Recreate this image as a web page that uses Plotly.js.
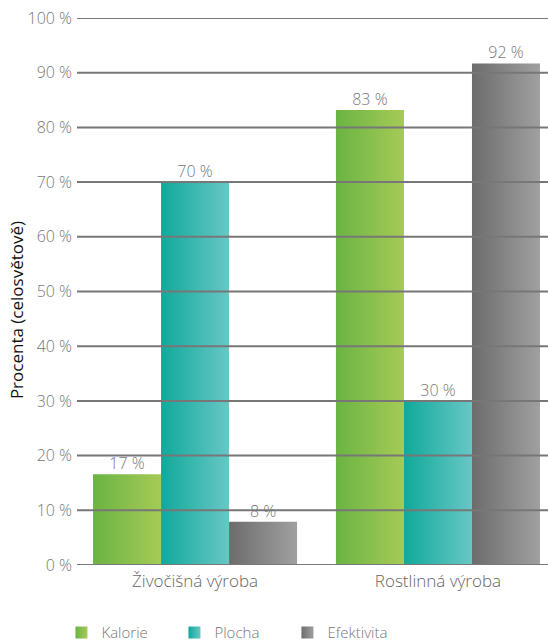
<!DOCTYPE html>
<html>
<head>
<meta charset="utf-8">
<script src="https://cdn.plot.ly/plotly-3.0.1.min.js"></script>
<style>html,body{margin:0;padding:0;background:#fff;}#chart{width:548px;height:644px;}</style>
</head>
<body>
<div id="chart"></div>
<script>
const categories = ["Živočišná výroba", "Rostlinná výroba"];
const seriesNames = ["Kalorie", "Plocha", "Efektivita"];
const kalorie = [16.6, 83.2];
const plocha = [70, 30];
const efektivita = [7.9, 91.7];
const tickValues = [0, 10, 20, 30, 40, 50, 60, 70, 80, 90, 100];
const yTitle = "Procenta (celosvětově)";

const gradients = [
  ["#6ab443", "#a6ca56"],
  ["#10a99b", "#68c7c5"],
  ["#6c6c6c", "#a0a0a0"]
];
const solid = ["#8abf4c", "#3cb8b0", "#868686"];

const allValues = [kalorie, plocha, efektivita];
const traces = allValues.map((vals, i) => ({
  type: "bar",
  name: seriesNames[i],
  x: categories,
  y: vals,
  text: vals.map(v => Math.round(v) + " %"),
  textposition: "outside",
  textfont: {family: "Open Sans", size: 16, color: "#777777", weight: 300},
  cliponaxis: false,
  marker: {color: solid[i], line: {width: 0}},
  hoverinfo: "none"
}));

const shapes = tickValues.map(v => ({
  type: "line", layer: "above", xref: "paper", x0: 0, x1: 1, yref: "y", y0: v, y1: v,
  line: {color: "#777777", width: 2}
}));

const layout = {
  width: 548, height: 644,
  margin: {l: 77, r: 0, t: 18, b: 79, autoexpand: false},
  paper_bgcolor: "#ffffff", plot_bgcolor: "#ffffff",
  font: {family: "Open Sans", color: "#777777"},
  barmode: "group",
  bargap: 0.16, bargroupgap: 0,
  showlegend: true,
  legend: {
    orientation: "h", x: -0.033, xanchor: "left", y: -0.124, yanchor: "middle",
    font: {family: "Open Sans", size: 15, color: "#777777", weight: 300},
    entrywidth: 68, entrywidthmode: "pixels", itemclick: false, itemdoubleclick: false
  },
  xaxis: {
    type: "category", range: [-0.486, 1.453], showgrid: false, zeroline: false, showline: false,
    ticks: "", ticklabelstandoff: 4,
    tickfont: {family: "Open Sans", size: 17, color: "#666666", weight: 300}, fixedrange: true
  },
  yaxis: {
    range: [0, 100], tickvals: tickValues, ticktext: tickValues.map(v => v + " %"),
    showgrid: false, zeroline: false, showline: false, ticks: "", ticklen: 0, ticklabelstandoff: 4,
    tickfont: {family: "Open Sans", size: 16, color: "#777777", weight: 300},
    fixedrange: true
  },
  annotations: [{
    text: yTitle, xref: "paper", yref: "paper", x: -0.1295, y: 0.466,
    xanchor: "center", yanchor: "middle", textangle: -90, showarrow: false,
    font: {family: "Open Sans", size: 17, color: "#111111"}
  }],
  shapes: shapes
};

function applyGradients(gd) {
  const svg = gd.querySelector("svg.main-svg");
  const ns = "http://www.w3.org/2000/svg";
  let defs = svg.querySelector("defs");
  if (!defs) { defs = document.createElementNS(ns, "defs"); svg.insertBefore(defs, svg.firstChild); }
  gradients.forEach((g, i) => {
    const lg = document.createElementNS(ns, "linearGradient");
    lg.setAttribute("id", "barGrad" + i);
    lg.setAttribute("x1", "0"); lg.setAttribute("y1", "0");
    lg.setAttribute("x2", "1"); lg.setAttribute("y2", "0");
    const s1 = document.createElementNS(ns, "stop");
    s1.setAttribute("offset", "0"); s1.setAttribute("stop-color", g[0]);
    const s2 = document.createElementNS(ns, "stop");
    s2.setAttribute("offset", "1"); s2.setAttribute("stop-color", g[1]);
    lg.appendChild(s1); lg.appendChild(s2); defs.appendChild(lg);
  });
  gd.querySelectorAll(".barlayer .trace.bars").forEach((tr, i) => {
    tr.querySelectorAll(".point path").forEach(p => { p.style.fill = "url(#barGrad" + i + ")"; p.style.stroke = "none"; });
    tr.querySelectorAll("text.bartext").forEach(t => {
      const y = parseFloat(t.getAttribute("y") || "0");
      t.setAttribute("y", y + 3);
    });
  });
  gd.querySelectorAll(".legend .traces").forEach((tr, i) => {
    tr.querySelectorAll(".legendpoints path").forEach(p => { p.style.fill = "url(#barGrad" + i + ")"; p.style.stroke = "none"; });
  });
}

Plotly.newPlot("chart", traces, layout, {displayModeBar: false, staticPlot: true}).then(applyGradients);
</script>
</body>
</html>
